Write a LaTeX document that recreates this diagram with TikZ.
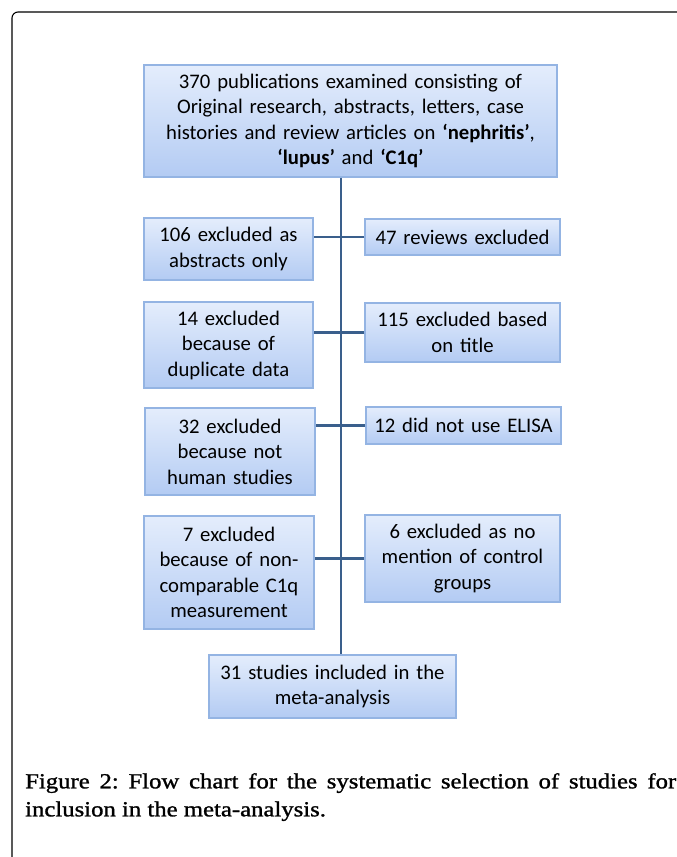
\documentclass[tikz,border=0pt]{standalone}
\usepackage{fontspec}
\setmainfont{Carlito}
\newfontfamily\capfont[FakeStretch=1.15,FakeBold=1.2]{Liberation Serif}
\usetikzlibrary{calc,positioning}
\definecolor{boxtop}{HTML}{E4EDFC}
\definecolor{boxbot}{HTML}{B3CBF3}
\definecolor{boxline}{HTML}{94B4E3}
\definecolor{spine}{HTML}{3A5F8C}

\tikzset{
  stage/.style={draw=boxline,line width=1.2pt,top color=boxtop,bottom color=boxbot,
    align=center,inner sep=0pt,font=\fontsize{20.7}{25.5}\selectfont},
  link/.style={spine,line width=2.4pt}
}

\begin{document}
\begin{tikzpicture}[x=1pt,y=-1pt]
  \useasboundingbox (0,0) rectangle (677,857);
  % frame
  \draw[line width=1.1pt,rounded corners=6pt] (12,857) -- (12,12) -- (677,12);

  % boxes
  \node[stage,minimum width=413pt,minimum height=112pt,text width=405pt] (pubs) at (350.5,121)
    {370 publications examined consisting of\\ Original research, abstracts, letters, case\\
     histories and review articles on \textbf{`nephritis'},\\ \textbf{`lupus'} and \textbf{`C1q'}};

  \node[stage,minimum width=169pt,minimum height=62pt,text width=165pt] (abs) at (228.5,249)
    {106 excluded as\\ abstracts only};
  \node[stage,minimum width=195pt,minimum height=36pt,text width=190pt] (rev) at (462.5,237)
    {47 reviews excluded};

  \node[stage,minimum width=169pt,minimum height=86pt,text width=165pt] (dup) at (228.5,345)
    {14 excluded\\ because of\\ duplicate data};
  \node[stage,minimum width=195pt,minimum height=59pt,text width=190pt] (tit) at (462.5,332.5)
    {115 excluded based\\ on title};

  \node[stage,minimum width=170pt,minimum height=87pt,text width=165pt] (hum) at (230,451.5)
    {32 excluded\\ because not\\ human studies};
  \node[stage,minimum width=195pt,minimum height=37pt,text width=190pt] (eli) at (463.5,425.5)
    {12 did not use ELISA};

  \node[stage,minimum width=170pt,minimum height=113pt,text width=165pt] (cmp) at (229,572.5)
    {7 excluded\\ because of non-\\ comparable C1q\\ measurement};
  \node[stage,minimum width=195pt,minimum height=87pt,text width=190pt] (ctl) at (462.5,558.5)
    {6 excluded as no\\ mention of control\\ groups};

  \node[stage,minimum width=247pt,minimum height=63pt,text width=240pt] (incl) at (332.5,686.5)
    {31 studies included in the\\ meta-analysis};

  % spine and side links
  \coordinate (axis) at (341,0);
  \draw[link] (pubs.south -| axis) -- (incl.north -| axis);
  \draw[link] (rev.west) -- (rev.west -| abs.east);
  \draw[link] (tit.west) -- (tit.west -| dup.east);
  \draw[link] (eli.west) -- (eli.west -| hum.east);
  \draw[link] (ctl.west) -- (ctl.west -| cmp.east);

  % caption
  \node[anchor=north west,inner sep=0pt,text width=651pt,align=justify,
    font=\capfont\frenchspacing\fontsize{21.5}{28}\selectfont] (cap) at (25,773)
    {Figure 2: Flow chart for the systematic selection of studies for\linebreak
     inclusion in the meta-analysis.};
\end{tikzpicture}
\end{document}
